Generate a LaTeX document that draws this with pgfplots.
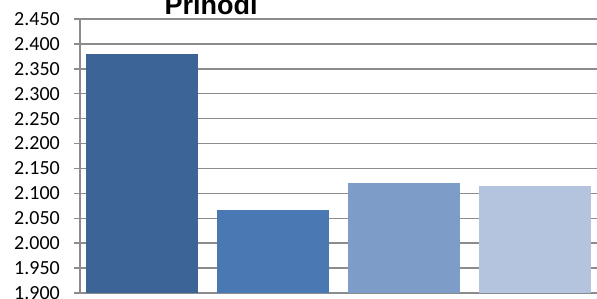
\documentclass[border=0pt]{standalone}
\usepackage{pgfplots}
\pgfplotsset{compat=1.18}
\usepackage{fontspec}
\setmainfont{Carlito}
\newfontfamily\titlefont{Liberation Sans}
\definecolor{c1}{HTML}{3C6496}
\definecolor{c2}{HTML}{4A78B2}
\definecolor{c3}{HTML}{7E9CC8}
\definecolor{c4}{HTML}{B4C3DE}
\definecolor{gridc}{HTML}{8C8C8C}
\begin{document}
\begin{tikzpicture}[x=1pt,y=1pt]
\useasboundingbox (0,0) rectangle (597,299);
\begin{axis}[
  at={(80pt,6pt)}, anchor=south west,
  scale only axis, width=517pt, height=274pt,
  xmin=-0.473, xmax=3.473,
  ymin=1.9, ymax=2.45,
  ytick={1.9,1.95,2.0,2.05,2.1,2.15,2.2,2.25,2.3,2.35,2.4,2.45},
  xtick=\empty,
  axis lines*=left,
  axis line style={gridc, line width=1.5pt},
  ymajorgrids,
  major grid style={gridc, line width=1.5pt},
  tick align=outside,
  major tick length=6pt,
  tick style={gridc, line width=1.5pt},
  yticklabel style={font=\fontsize{20}{24}\selectfont, inner sep=0pt, xshift=-14pt, anchor=east},
  /pgf/number format/.cd, fixed, fixed zerofill, precision=3, use period, assume math mode=true,
  /pgfplots/.cd,
  ybar, bar width=112pt,
  clip=true,
]
\addplot[fill=c1, draw=none, bar shift=0pt] coordinates {(0,2.380)};
\addplot[fill=c2, draw=none, bar shift=0pt] coordinates {(1,2.066)};
\addplot[fill=c3, draw=none, bar shift=0pt] coordinates {(2,2.121)};
\addplot[fill=c4, draw=none, bar shift=0pt] coordinates {(3,2.115)};
\end{axis}
\node[anchor=base, inner sep=0pt, font=\titlefont\bfseries\fontsize{27}{30}\selectfont] at (211,284.3) {Prihodi};
\end{tikzpicture}
\end{document}
